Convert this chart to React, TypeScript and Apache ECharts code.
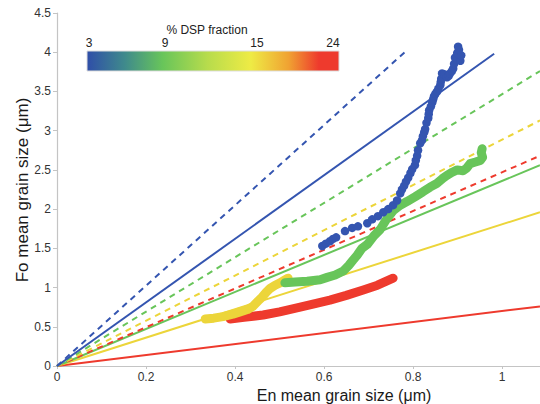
import React, { useEffect, useRef } from "react";
import * as echarts from "echarts";

const X_MAX = 1.085;
const xTicks = [0, 0.2, 0.4, 0.6, 0.8, 1];
const yTicks = [0, 0.5, 1, 1.5, 2, 2.5, 3, 3.5, 4, 4.5];

// Reference lines from origin: [end x, end y]
const blueDashedEnd: [number, number] = [0.787, 4.03];
const blueSolidEnd: [number, number] = [0.982, 3.98];
const greenDashedEnd: [number, number] = [1.085, 3.76];
const yellowDashedEnd: [number, number] = [1.085, 3.13];
const redDashedEnd: [number, number] = [1.085, 2.68];
const greenSolidEnd: [number, number] = [1.085, 2.56];
const yellowSolidEnd: [number, number] = [1.085, 1.96];
const redSolidEnd: [number, number] = [1.085, 0.76];

// Measured data tracks
const blueData: [number, number][] = [
  [0.596, 1.53], [0.604, 1.56], [0.613, 1.59], [0.62, 1.62], [0.627, 1.64], [0.647, 1.72],
  [0.663, 1.76], [0.676, 1.78], [0.697, 1.82], [0.708, 1.87], [0.721, 1.91],
  [0.733, 1.96], [0.744, 2.0], [0.755, 2.05], [0.764, 2.11], [0.771, 2.2],
  [0.775, 2.25], [0.78, 2.3], [0.784, 2.35], [0.789, 2.4], [0.794, 2.46], [0.798, 2.51],
  [0.804, 2.56], [0.806, 2.62], [0.809, 2.68], [0.811, 2.75], [0.816, 2.84], [0.82, 2.88],
  [0.822, 2.93], [0.825, 2.98], [0.827, 3.02], [0.83, 3.1], [0.834, 3.16], [0.835, 3.21],
  [0.836, 3.26], [0.84, 3.31], [0.843, 3.36], [0.845, 3.4], [0.847, 3.44], [0.85, 3.47],
  [0.854, 3.5], [0.857, 3.54], [0.861, 3.58], [0.862, 3.62], [0.863, 3.66],
  [0.865, 3.73], [0.87, 3.72], [0.876, 3.68], [0.88, 3.7], [0.883, 3.73], [0.887, 3.76],
  [0.89, 3.79], [0.892, 3.85], [0.894, 3.93], [0.899, 3.99], [0.906, 3.89],
  [0.908, 3.96], [0.901, 4.07], [0.903, 4.03],
];

const greenData: [number, number][] = [
  [0.512, 1.06], [0.535, 1.07], [0.562, 1.08], [0.591, 1.1], [0.607, 1.13],
  [0.625, 1.16], [0.643, 1.21], [0.655, 1.28], [0.665, 1.35], [0.674, 1.41],
  [0.685, 1.5], [0.697, 1.55], [0.712, 1.66], [0.726, 1.74], [0.739, 1.86],
  [0.755, 1.98], [0.771, 2.05], [0.787, 2.1], [0.805, 2.16], [0.822, 2.22],
  [0.838, 2.28], [0.854, 2.33], [0.866, 2.39], [0.876, 2.43], [0.888, 2.47],
  [0.899, 2.5], [0.912, 2.49], [0.92, 2.52], [0.928, 2.58], [0.94, 2.6],
  [0.951, 2.62], [0.956, 2.66], [0.953, 2.72], [0.955, 2.77],
];

const yellowData: [number, number][] = [
  [0.333, 0.6], [0.352, 0.61], [0.373, 0.63], [0.395, 0.66], [0.411, 0.69],
  [0.428, 0.72], [0.44, 0.76], [0.452, 0.83], [0.461, 0.88], [0.47, 0.94],
  [0.479, 0.99], [0.49, 1.03], [0.501, 1.06], [0.51, 1.09], [0.519, 1.12],
];

const redData: [number, number][] = [
  [0.389, 0.6], [0.42, 0.62], [0.463, 0.65], [0.5, 0.69], [0.539, 0.74],
  [0.575, 0.79], [0.613, 0.84], [0.65, 0.9], [0.688, 0.97], [0.72, 1.03],
  [0.755, 1.12],
];

// Colour bar
const barStops = ["3", "9", "15", "24"];
const barTitle = "% DSP fraction";

const BLUE = "#3455b0";
const GREEN = "#68c55a";
const YELLOW = "#ecd53a";
const RED = "#ee3a2d";

function refLine(end: [number, number], color: string, dashed: boolean) {
  return {
    type: "line",
    data: [[0, 0], end],
    symbol: "none",
    silent: true,
    z: 2,
    lineStyle: {
      color,
      width: 2,
      type: dashed ? [6, 5] : "solid",
    },
  };
}

function track(data: [number, number][], color: string) {
  return {
    type: "line",
    data,
    symbol: "none",
    z: 3,
    lineStyle: { color, width: 9, cap: "round", join: "round" },
  };
}

export default function App() {
  const ref = useRef<HTMLDivElement>(null);
  useEffect(() => {
    if (!ref.current) return;
    const chart = echarts.init(ref.current, undefined, { renderer: "svg" });
    const textColor = "#333";
    chart.setOption({
      animation: false,
      grid: { left: 57, right: 0, top: 13, bottom: 38, containLabel: false },
      xAxis: {
        type: "value",
        min: 0,
        max: X_MAX,
        interval: 0.2,
        axisLine: { show: true, lineStyle: { color: "#c4c4c4", width: 1.2 } },
        axisTick: { show: true, length: 3, lineStyle: { color: "#c4c4c4" } },
        splitLine: { show: false },
        axisLabel: {
          showMaxLabel: false,
          color: textColor,
          fontSize: 12,
          fontFamily: "Liberation Sans, Arial, sans-serif",
          margin: 5,
          formatter: (v: number) => (xTicks.some((t) => Math.abs(t - v) < 1e-6) ? String(+v.toFixed(1)) : ""),
        },
      },
      yAxis: {
        type: "value",
        min: 0,
        max: 4.5,
        interval: 0.5,
        axisLine: { show: true, lineStyle: { color: "#c4c4c4", width: 1.2 } },
        axisTick: { show: true, length: 4, lineStyle: { color: "#c4c4c4" } },
        splitLine: { show: false },
        axisLabel: {
          color: textColor,
          fontSize: 12,
          fontFamily: "Liberation Sans, Arial, sans-serif",
          margin: 6,
          formatter: (v: number) => (yTicks.includes(v) ? String(v) : ""),
        },
      },
      series: [
        refLine(redSolidEnd, RED, false),
        refLine(yellowSolidEnd, YELLOW, false),
        refLine(greenSolidEnd, GREEN, false),
        refLine(redDashedEnd, RED, true),
        refLine(yellowDashedEnd, YELLOW, true),
        refLine(greenDashedEnd, GREEN, true),
        refLine(blueSolidEnd, BLUE, false),
        refLine(blueDashedEnd, BLUE, true),
        track(redData, RED),
        track(yellowData, YELLOW),
        track(greenData, GREEN),
        {
          type: "scatter",
          data: blueData,
          symbol: "circle",
          symbolSize: 8.5,
          z: 4,
          itemStyle: { color: BLUE, opacity: 1 },
        },
      ],
      graphic: [
        {
          type: "text",
          x: 344,
          y: 395,
          style: {
            text: "En mean grain size (μm)",
            fill: "#1a1a1a",
            font: "16px 'Liberation Sans', Arial, sans-serif",
            align: "center",
            verticalAlign: "middle",
          },
        },
        {
          type: "text",
          x: 22,
          y: 190,
          rotation: Math.PI / 2,
          style: {
            text: "Fo mean grain size (μm)",
            fill: "#1a1a1a",
            font: "17px 'Liberation Sans', Arial, sans-serif",
            align: "center",
            verticalAlign: "middle",
          },
        },
        {
          type: "rect",
          shape: { x: 87, y: 51, width: 252, height: 20 },
          style: {
            fill: new echarts.graphic.LinearGradient(0, 0, 1, 0, [
              { offset: 0, color: "#2f4ea8" },
              { offset: 0.15, color: "#3f8a8c" },
              { offset: 0.3, color: "#68c55a" },
              { offset: 0.48, color: "#b8dc4c" },
              { offset: 0.65, color: "#eeeb45" },
              { offset: 0.8, color: "#f0a232" },
              { offset: 0.92, color: "#ee3a2d" },
              { offset: 1, color: "#ee3a2d" },
            ]),
            stroke: "#dddddd",
            lineWidth: 1,
          },
        },
        {
          type: "text",
          x: 207,
          y: 30,
          style: {
            text: barTitle,
            fill: "#222",
            font: "12px 'Liberation Sans', Arial, sans-serif",
            align: "center",
            verticalAlign: "middle",
          },
        },
        ...[
          [89, barStops[0]],
          [165, barStops[1]],
          [257, barStops[2]],
          [333, barStops[3]],
        ].map(([x, t]) => ({
          type: "text",
          x: x as number,
          y: 43,
          style: {
            text: t as string,
            fill: "#222",
            font: "12px 'Liberation Sans', Arial, sans-serif",
            align: "center",
            verticalAlign: "middle",
          },
        })),
      ],
    });
    return () => chart.dispose();
  }, []);
  return <div ref={ref} style={{ width: 540, height: 404, position: "absolute", left: 0, top: 0 }} />;
}
